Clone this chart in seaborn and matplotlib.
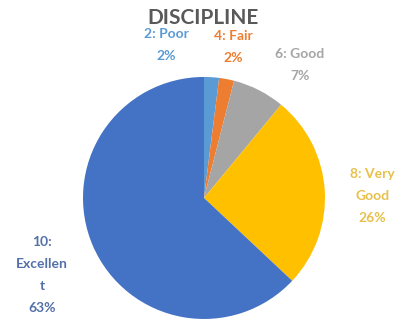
import matplotlib
matplotlib.use('Agg')
import matplotlib.pyplot as plt
import seaborn as sns

sns.set_style('white')
plt.rcParams['font.family'] = ['Lato', 'DejaVu Sans']

ratings = ['2: Poor', '4: Fair', '6: Good', '8: Very\nGood', '10:\nExcellen\nt']
percents = [2, 2, 7, 26, 63]
colors = ['#5B9BD5', '#ED7D31', '#A5A5A5', '#FFC000', '#4472C4']
label_colors = ['#5B9BD5', '#ED7D31', '#A5A5A5', '#E8C04A', '#5470A8']
# label spots (pie radius = 1)
label_pos = [(-0.31, 1.26), (0.24, 1.25), (0.79, 1.10), (1.39, 0.02), (-1.34, -0.64)]

fig = plt.figure(figsize=(4.04, 3.22), dpi=100)
ax = fig.add_axes([0, 0, 1, 1])

ax.pie(percents, colors=colors, startangle=90, counterclock=False,
       radius=1, wedgeprops=dict(linewidth=0))

for name, p, c, (x, y) in zip(ratings, percents, label_colors, label_pos):
    ax.text(x, y, f'{name}\n{p}%', ha='center', va='center', color=c,
            fontsize=10, fontweight='bold', linespacing=2.0)

ax.text(-0.01, 1.49, 'DISCIPLINE', ha='center', va='center', color='#595959',
        fontsize=15, fontweight='bold')

ax.set_xlim(-1.686, 1.653)
ax.set_ylim(-1.025, 1.636)
ax.set_aspect('auto')
ax.axis('off')

fig.savefig('out.png', dpi=100)
